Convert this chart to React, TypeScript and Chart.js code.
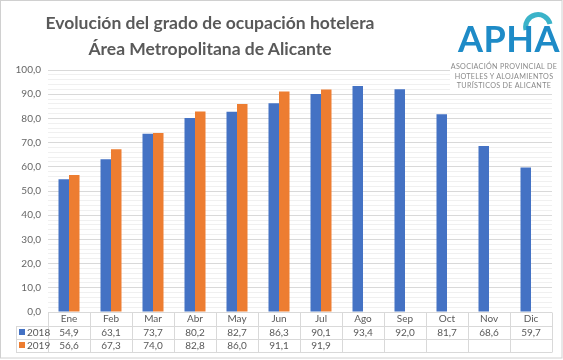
import React, { useEffect, useRef } from "react";
import { Chart, registerables } from "chart.js";
Chart.register(...registerables);

const categories = ["Ene", "Feb", "Mar", "Abr", "May", "Jun", "Jul", "Ago", "Sep", "Oct", "Nov", "Dic"];
const values2018: (number | null)[] = [54.9, 63.1, 73.7, 80.2, 82.7, 86.3, 90.1, 93.4, 92.0, 81.7, 68.6, 59.7];
const values2019: (number | null)[] = [56.6, 67.3, 74.0, 82.8, 86.0, 91.1, 91.9, null, null, null, null, null];
const seriesLabels = ["2018", "2019"];
const seriesColors = ["#4472C4", "#ED7D31"];
const titleLines = ["Evolución del grado de ocupación hotelera", "Área Metropolitana de Alicante"];
const logoLines = ["ASOCIACIÓN PROVINCIAL DE", "HOTELES Y ALOJAMIENTOS", "TURÍSTICOS DE ALICANTE"];

const fmt = (v: number) => v.toFixed(1).replace(".", ",");
const FONT = "Lato, 'Open Sans', sans-serif";

const tablePlugin = {
  id: "dataTable",
  afterDraw(chart: any) {
    const { ctx, chartArea } = chart;
    const left = chartArea.left;
    const right = chartArea.right;
    const top = chartArea.bottom;
    const n = categories.length;
    const w = (right - left) / n;
    const rows = [top, top + 13.5, top + 26.5, top + 39.5];
    const legendLeft = 16;
    ctx.save();
    ctx.strokeStyle = "#d9d9d9";
    ctx.lineWidth = 1;
    const px = (v: number) => Math.round(v) + 0.5;
    ctx.beginPath();
    for (let r = 1; r < rows.length; r++) {
      ctx.moveTo(legendLeft, px(rows[r]));
      ctx.lineTo(right, px(rows[r]));
    }
    for (let i = 0; i <= n; i++) {
      const x = px(left + i * w);
      ctx.moveTo(x, px(rows[0]));
      ctx.lineTo(x, px(rows[3]));
    }
    ctx.moveTo(px(legendLeft), px(rows[1]));
    ctx.lineTo(px(legendLeft), px(rows[3]));
    ctx.stroke();

    ctx.fillStyle = "#595959";
    ctx.font = `10px ${FONT}`;
    ctx.textAlign = "center";
    ctx.textBaseline = "middle";
    const series = [values2018, values2019];
    for (let i = 0; i < n; i++) {
      const cx = left + (i + 0.5) * w;
      ctx.fillText(categories[i], cx, (rows[0] + rows[1]) / 2 + 0.5);
      for (let s = 0; s < series.length; s++) {
        const v = series[s][i];
        if (v !== null) ctx.fillText(fmt(v), cx, (rows[s + 1] + rows[s + 2]) / 2 + 0.5);
      }
    }
    ctx.textAlign = "left";
    ctx.font = `10px ${FONT}`;
    for (let s = 0; s < seriesLabels.length; s++) {
      const cy = (rows[s + 1] + rows[s + 2]) / 2;
      ctx.fillStyle = seriesColors[s];
      ctx.fillRect(19, Math.round(cy) - 3, 6, 6);
      ctx.fillStyle = "#595959";
      ctx.fillText(seriesLabels[s], 27, cy + 0.5);
    }
    // outer border
    ctx.strokeStyle = "#d0d0d0";
    ctx.strokeRect(0.5, 0.5, chart.width - 1.5, chart.height - 2.5);
    ctx.restore();
  },
};

export default function App() {
  const ref = useRef<HTMLCanvasElement | null>(null);
  useEffect(() => {
    document.body.style.margin = "0";
    if (!ref.current) return;
    const chart = new Chart(ref.current, {
      type: "bar",
      data: {
        labels: categories,
        datasets: [
          { label: seriesLabels[0], data: values2018, backgroundColor: seriesColors[0], categoryPercentage: 0.5, barPercentage: 1.0 },
          { label: seriesLabels[1], data: values2019, backgroundColor: seriesColors[1], categoryPercentage: 0.5, barPercentage: 1.0 },
        ],
      },
      options: {
        animation: false,
        responsive: false,
        maintainAspectRatio: false,
        layout: { padding: { top: 70, bottom: 48, right: 11, left: 0 } },
        plugins: { legend: { display: false }, tooltip: { enabled: false }, title: { display: false } },
        scales: {
          x: {
            display: false,
          },
          y: {
            min: 0,
            max: 100,
            afterFit: (scale: any) => {
              scale.width = 48;
            },
            ticks: {
              stepSize: 2,
              autoSkip: false,
              padding: 7,
              color: "#666666",
              font: { family: FONT, size: 10 },
              callback: (v: any) => (Number(v) % 10 === 0 ? fmt(Number(v)) : ""),
            },
            grid: {
              drawTicks: false,
              color: (c: any) => (c.tick && c.tick.value % 10 === 0 ? "#d9d9d9" : "#f0f0f0"),
            },
            border: { display: false },
          },
        },
      },
      plugins: [tablePlugin],
    });
    return () => chart.destroy();
  }, []);

  return (
    <div style={{ position: "relative", width: 563, height: 360, background: "#fff" }}>
      <canvas ref={ref} width={563} height={360} style={{ display: "block" }} />
      <div
        style={{
          position: "absolute",
          left: 0,
          width: 420,
          top: 10,
          textAlign: "center",
          fontFamily: FONT,
          fontWeight: 700,
          fontSize: 17.5,
          lineHeight: "26px",
          color: "#595959",
        }}
      >
        {titleLines.map((t) => (
          <div key={t}>{t}</div>
        ))}
      </div>
      <div
        style={{
          position: "absolute",
          left: 450,
          top: 8,
          width: 108,
          height: 84,
          background: "#fff",
          fontFamily: FONT,
          textAlign: "center",
        }}
      >
        <svg width={40} height={20} style={{ position: "absolute", left: 70, top: 4 }}>
          <path d="M6 18 A12 12 0 0 1 30 12" stroke="#3bb3c9" strokeWidth={5} fill="none" />
        </svg>
        <div
          style={{
            position: "absolute",
            left: 8,
            top: 10,
            fontSize: 36,
            fontWeight: 700,
            color: "#1e8bc7",
            letterSpacing: 0.5,
            lineHeight: "40px",
          }}
        >
          APHA
        </div>
        <div style={{ position: "absolute", left: 0, top: 54, width: 108, fontSize: 7.2, lineHeight: "9.5px", color: "#8a8a8a", letterSpacing: 0.3 }}>
          {logoLines.map((t) => (
            <div key={t}>{t}</div>
          ))}
        </div>
      </div>
    </div>
  );
}
